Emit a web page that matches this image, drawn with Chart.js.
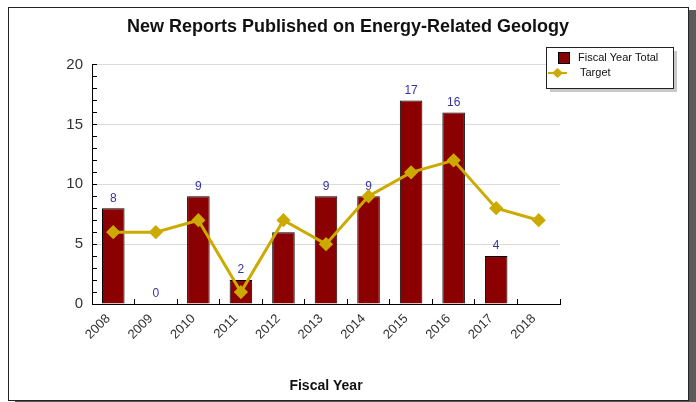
<!DOCTYPE html>
<html>
<head>
<meta charset="utf-8">
<script src="https://cdn.jsdelivr.net/npm/chart.js@4"></script>
<style>
  html, body { margin: 0; padding: 0; background: #fff; }
  #frame {
    position: absolute; left: 8px; top: 7px; width: 679px; height: 392px;
    border: 1px solid #222; box-shadow: 7px 3px 0 #5a5a5a; background: #fff;
  }
  #wrap { position: absolute; left: 0; top: 0; width: 696px; height: 402px; }
</style>
</head>
<body>
<div id="frame"></div>
<div id="wrap"><canvas id="grafica" width="696" height="402"></canvas></div>
<script>
const anios = ['2008', '2009', '2010', '2011', '2012', '2013', '2014', '2015', '2016', '2017', '2018'];
const totales = [8, 0, 9, 2, 6, 9, 9, 17, 16, 4, null];
const metas = [6, 6, 7, 1, 7, 5, 9, 11, 12, 8, 7];
const marcasY = [0, 5, 10, 15, 20];

const rojo = '#8b0000';
const dorado = '#ccaa00';
const fuente = '"Liberation Sans", Arial, sans-serif';

// etiquetas encima de las barras (antes de pintar la linea)
const etiquetas = {
  id: 'etiquetas',
  afterDatasetDraw(chart, args) {
    if (chart.data.datasets[args.index].type !== 'bar') return;
    const ctx = chart.ctx;
    ctx.save();
    ctx.font = '12px ' + fuente;
    ctx.fillStyle = '#3434a4';
    ctx.textAlign = 'center';
    ctx.textBaseline = 'bottom';
    args.meta.data.forEach((bar, i) => {
      const v = totales[i];
      if (v === null) return;
      ctx.fillText(String(v), bar.x, bar.y - 4);
    });
    ctx.restore();
  }
};

// leyenda en caja con sombra
const leyenda = {
  id: 'leyenda',
  afterDraw(chart) {
    const ctx = chart.ctx;
    const x = 546, y = 47, w = 127, h = 41;
    ctx.save();
    ctx.fillStyle = '#c8c8c8';
    ctx.fillRect(x + 4, y + 4, w, h);
    ctx.fillStyle = '#fff';
    ctx.fillRect(x, y, w, h);
    ctx.strokeStyle = '#222';
    ctx.lineWidth = 1;
    ctx.strokeRect(x + 0.5, y + 0.5, w, h);

    const ds = chart.data.datasets;
    ctx.font = '11px ' + fuente;
    ctx.textBaseline = 'middle';
    // barras
    ctx.fillStyle = rojo;
    ctx.fillRect(558, 52, 11, 11);
    ctx.strokeStyle = '#000';
    ctx.strokeRect(558.5, 52.5, 11, 11);
    ctx.fillStyle = '#111';
    ctx.fillText(ds[1].label, 578, 58);
    // linea
    ctx.strokeStyle = dorado;
    ctx.lineWidth = 2;
    ctx.beginPath();
    ctx.moveTo(548, 73); ctx.lineTo(567, 73);
    ctx.stroke();
    ctx.fillStyle = dorado;
    ctx.beginPath();
    ctx.moveTo(557.5, 68); ctx.lineTo(563, 73); ctx.lineTo(557.5, 78); ctx.lineTo(552, 73);
    ctx.closePath();
    ctx.fill();
    ctx.fillStyle = '#111';
    ctx.fillText(ds[0].label, 580, 73);
    ctx.restore();
  }
};

new Chart(document.getElementById('grafica'), {
  data: {
    labels: anios,
    datasets: [
      {
        type: 'line',
        label: 'Target',
        data: metas,
        borderColor: dorado,
        backgroundColor: dorado,
        borderWidth: 3,
        pointStyle: 'rectRot',
        pointRadius: 5,
        pointHoverRadius: 5,
        tension: 0,
        order: 1
      },
      {
        type: 'bar',
        label: 'Fiscal Year Total',
        data: totales,
        backgroundColor: rojo,
        borderColor: '#000',
        borderWidth: 1,
        barPercentage: 0.53,
        categoryPercentage: 1,
        order: 2
      }
    ]
  },
  options: {
    responsive: false,
    animation: false,
    layout: { padding: 0 },
    plugins: {
      legend: { display: false },
      tooltip: { enabled: false },
      title: {
        display: true,
        text: 'New Reports Published on Energy-Related Geology',
        color: '#111',
        font: { family: fuente, size: 18, weight: 'bold' },
        padding: { top: 16, bottom: 27 }
      }
    },
    scales: {
      x: {
        offset: true,
        border: { color: '#000', width: 1 },
        grid: { display: true, offset: true, drawOnChartArea: false, tickLength: -5, tickColor: '#000' },
        ticks: {
          color: '#333',
          minRotation: 45, maxRotation: 45,
          padding: 12,
          labelOffset: -5,
          font: { family: fuente, size: 13 }
        },
        title: {
          display: true,
          text: 'Fiscal Year',
          color: '#111',
          font: { family: fuente, size: 14, weight: 'bold' },
          padding: { top: 0, bottom: 7 }
        },
        afterFit(scale) { scale.height = 98; }
      },
      y: {
        min: 0, max: 20,
        border: { color: '#000', width: 1 },
        grid: {
          color: c => (marcasY.includes(c.tick.value) && c.tick.value !== 0) ? '#dcdcdc' : 'rgba(0,0,0,0)',
          tickColor: '#000',
          tickLength: -5
        },
        ticks: {
          stepSize: 1,
          autoSkip: false,
          color: '#333',
          padding: 14,
          font: { family: fuente, size: 15 },
          callback: v => marcasY.includes(v) ? String(v) : ''
        },
        afterFit(scale) { scale.width = 92; }
      },
      // eje vacio a la derecha: reserva el hueco de la leyenda
      derecha: {
        type: 'linear',
        position: 'right',
        display: true,
        border: { display: false },
        grid: { display: false },
        ticks: { display: false },
        afterFit(scale) { scale.width = 136; }
      }
    }
  },
  plugins: [etiquetas, leyenda]
});
</script>
</body>
</html>
